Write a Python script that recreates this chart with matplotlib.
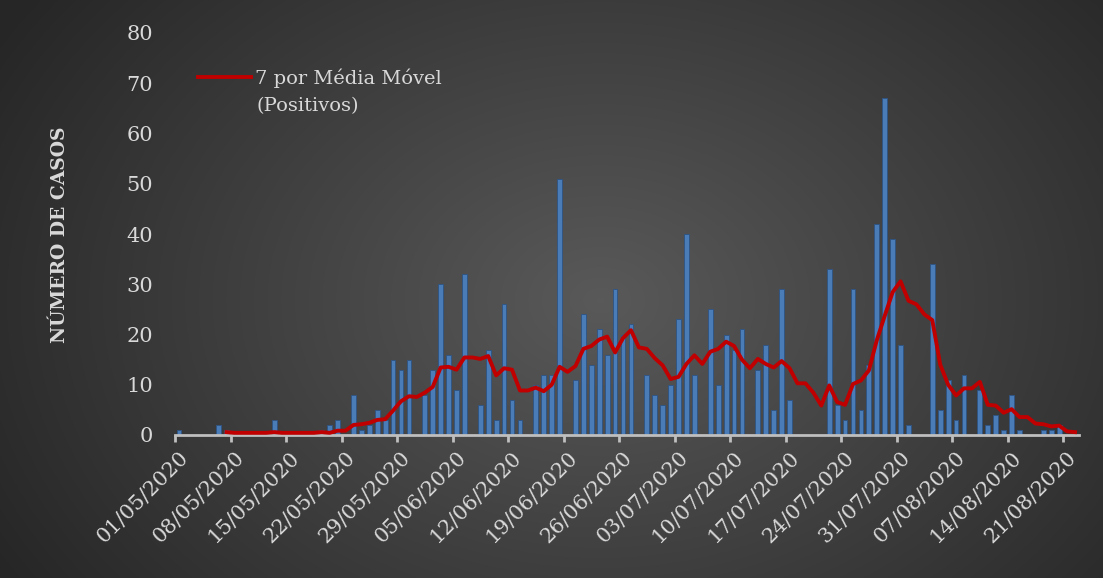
import numpy as np
import pandas as pd
import matplotlib
matplotlib.use("Agg")
import matplotlib.pyplot as plt

# casos positivos por dia, 01/05/2020 a 22/08/2020
dates = pd.date_range("2020-05-01", "2020-08-22", freq="D")
positivos = [
    1, 0, 0, 0, 0, 2, 1, 0, 0, 0, 0, 0, 3, 0,          # 01/05 - 14/05
    0, 0, 0, 0, 1, 2, 3, 0, 8, 1, 2, 5, 3, 15,         # 15/05 - 28/05
    13, 15, 0, 8, 13, 30, 16, 9, 32, 0, 6, 17, 3, 26,  # 29/05 - 11/06
    7, 3, 0, 10, 12, 12, 51, 0, 11, 24, 14, 21, 16, 29,  # 12/06 - 25/06
    20, 22, 0, 12, 8, 6, 10, 23, 40, 12, 0, 25, 10, 20,  # 26/06 - 09/07
    17, 21, 0, 13, 18, 5, 29, 7, 0, 0, 0, 0, 33, 6,    # 10/07 - 23/07
    3, 29, 5, 14, 42, 67, 39, 18, 2, 0, 0, 34, 5, 11,  # 24/07 - 06/08
    3, 12, 0, 9, 2, 4, 1, 8, 1, 0, 0, 1, 1, 2,         # 07/08 - 20/08
    0, 0,                                              # 21/08 - 22/08
]
media_movel = pd.Series(positivos).rolling(7).mean()

y_ticks = [0, 10, 20, 30, 40, 50, 60, 70, 80]
label_every = 7

txt = "#d9d9d9"
serif = ["DejaVu Serif"]

fig = plt.figure(figsize=(11.03, 5.78), dpi=100)

# fundo com gradiente radial
bg = fig.add_axes([0, 0, 1, 1], zorder=-10)
yy, xx = np.mgrid[0:578, 0:1103]
r = np.sqrt(((xx - 600) / 700.0) ** 2 + ((yy - 300) / 520.0) ** 2)
shade = np.clip(0.35 - 0.2 * r, 0.15, 0.35)
bg.imshow(np.dstack([shade] * 3), aspect="auto", extent=[0, 1, 0, 1])
bg.axis("off")

ax = fig.add_axes([175 / 1103, 1 - 435 / 578, 904 / 1103, 402 / 578])
ax.patch.set_alpha(0)

x = np.arange(len(positivos))
ax.bar(x, positivos, width=0.6, color="#4a7cb8", edgecolor="#2e5485",
       linewidth=0.6, zorder=2)
ax.plot(x, media_movel, color="#c00000", lw=2.8, zorder=3,
        label="7 por Média Móvel")

ax.set_xlim(-0.5, len(positivos) - 0.5)
ax.set_ylim(0, 80)
ax.set_yticks(y_ticks)
ax.set_yticklabels([str(v) for v in y_ticks], fontsize=15, color=txt,
                   family=serif)
ax.tick_params(axis="y", length=0, pad=16)

major = x[::label_every]
ax.set_xticks(major)
ax.set_xticklabels([d.strftime("%d/%m/%Y") for d in dates[::label_every]],
                   rotation=45, ha="right", va="top", rotation_mode="anchor",
                   fontsize=15, color=txt, family=serif)
ax.set_xticks(major - 0.5, minor=True)
ax.tick_params(axis="x", which="major", length=0, pad=9)
ax.tick_params(axis="x", which="minor", length=5, width=2, color="#bfbfbf")

for s in ["top", "right", "left"]:
    ax.spines[s].set_visible(False)
ax.spines["bottom"].set_color("#bfbfbf")
ax.spines["bottom"].set_linewidth(2)

fig.text(60 / 1103, 1 - 235 / 578, "NÚMERO DE CASOS", rotation=90,
         ha="center", va="center", fontsize=13.5, fontweight="bold",
         color=txt, family=serif)

leg = ax.legend(loc="center left", bbox_to_anchor=(198 / 1103, 1 - 78 / 578),
                bbox_transform=fig.transFigure, frameon=False,
                handlelength=2.7, handletextpad=0.25, borderpad=0,
                borderaxespad=0, prop={"family": serif, "size": 14})
for t in leg.get_texts():
    t.set_color(txt)
fig.text(257 / 1103, 1 - 106 / 578, "(Positivos)", ha="left", va="center",
         fontsize=14, color=txt, family=serif)

fig.savefig("out.png", dpi=100)
